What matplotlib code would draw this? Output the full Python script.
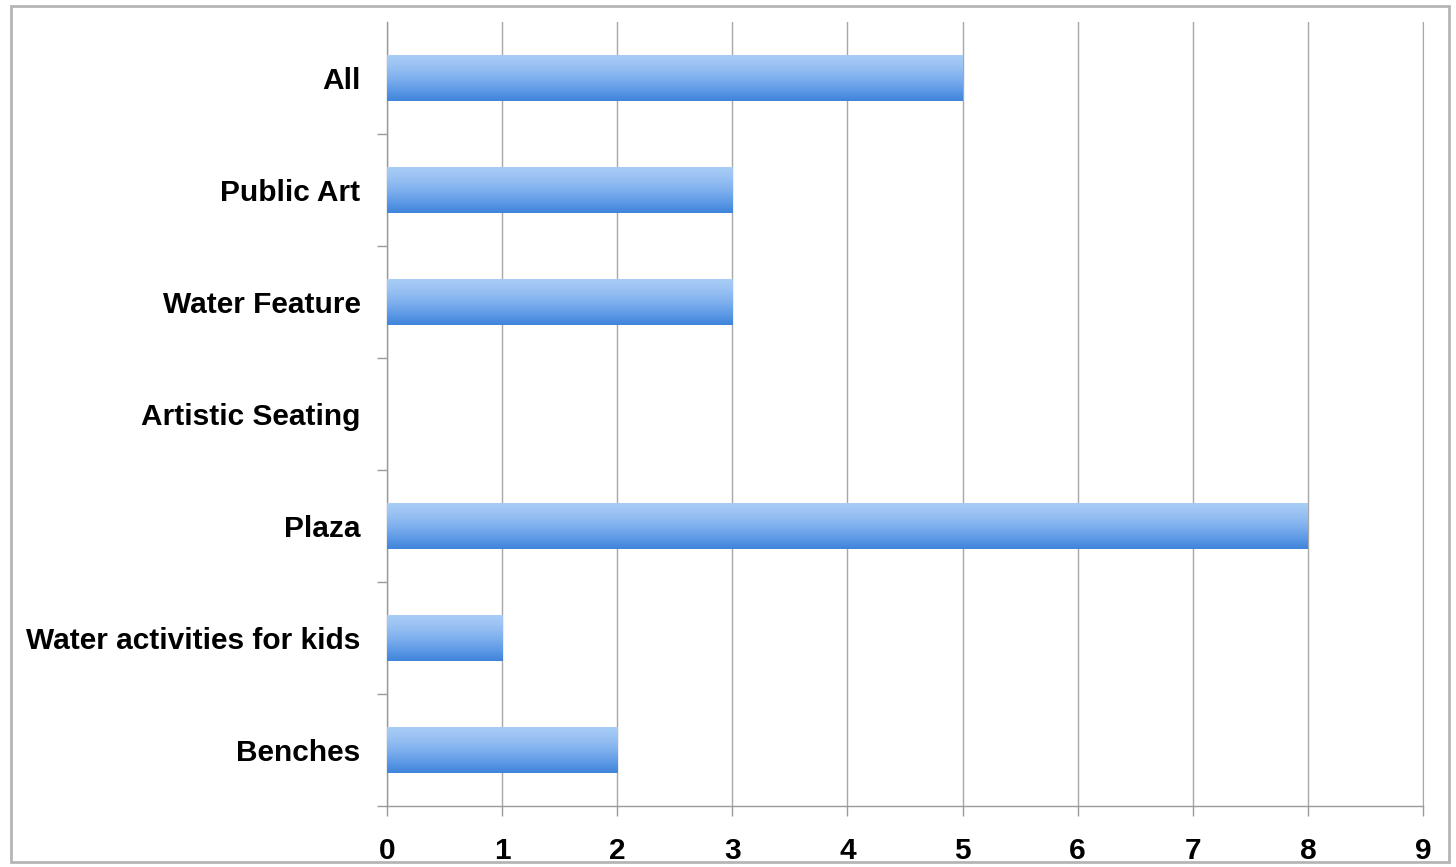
import numpy as np
import matplotlib.pyplot as plt
from matplotlib.colors import LinearSegmentedColormap
from matplotlib.patches import Rectangle

categories = [
    "Benches",
    "Water activities for kids",
    "Plaza",
    "Artistic Seating",
    "Water Feature",
    "Public Art",
    "All",
]
counts = [2, 1, 8, 0, 3, 3, 5]
x_ticks = [0, 1, 2, 3, 4, 5, 6, 7, 8, 9]

plt.rcParams["font.family"] = ["Liberation Sans", "DejaVu Sans"]

bar_cmap = LinearSegmentedColormap.from_list(
    "bar_shade", ["#3f84da", "#5f9be6", "#7fb0ee", "#98c1f3", "#a9cdf6"]
)

fig = plt.figure(figsize=(14.56, 8.67), dpi=100, facecolor="white")
ax = fig.add_axes([0.2658, 0.0704, 0.7115, 0.9042])

y_pos = np.arange(len(categories))
bar_height = 0.41
bars = ax.barh(y_pos, counts, height=bar_height, color="none", edgecolor="none", zorder=3)

# vertical gradient fill clipped to each bar
gradient = np.linspace(0, 1, 256).reshape(-1, 1)
for bar in bars:
    w = bar.get_width()
    if w <= 0:
        continue
    y0 = bar.get_y()
    img = ax.imshow(
        gradient,
        cmap=bar_cmap,
        aspect="auto",
        origin="lower",
        extent=[0, w, y0, y0 + bar_height],
        zorder=3,
        interpolation="bicubic",
    )
    img.set_clip_path(bar)

ax.set_xlim(0, 9)
ax.set_ylim(-0.5, len(categories) - 0.5)
ax.set_xticks(x_ticks)
ax.set_yticks(y_pos)
ax.set_yticklabels(categories)
ax.set_yticks(np.arange(-0.5, len(categories) - 0.5, 1.0), minor=True)

ax.grid(axis="x", color="#a8a8a8", linewidth=1.0, zorder=0)
ax.set_axisbelow(True)

ax.spines["top"].set_visible(False)
ax.spines["right"].set_color("#a8a8a8")
for side in ["left", "bottom"]:
    ax.spines[side].set_color("#9a9a9a")
    ax.spines[side].set_linewidth(1.0)

ax.tick_params(axis="y", which="major", length=0, pad=19, labelsize=21.5)
ax.tick_params(axis="y", which="minor", length=7, color="#9a9a9a", width=1.0)
ax.tick_params(axis="x", which="major", length=7, color="#9a9a9a", width=1.0,
               pad=15, labelsize=21.5)
for label in ax.get_xticklabels() + ax.get_yticklabels():
    label.set_fontweight("bold")

# thin grey frame around the whole chart
fig.patches.append(Rectangle(
    (11 / 1456, 5 / 867), 1438 / 1456, 856 / 867,
    transform=fig.transFigure, fill=False, edgecolor="#b5b5b5", linewidth=2.0,
))

fig.savefig("out.png", dpi=100, facecolor="white")
